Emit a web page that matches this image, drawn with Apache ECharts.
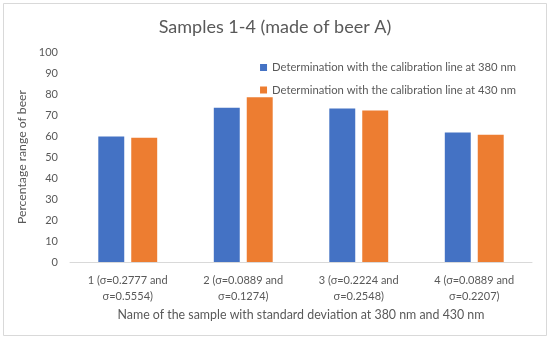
<!DOCTYPE html>
<html><head><meta charset="utf-8">
<script src="https://cdn.jsdelivr.net/npm/echarts@6/dist/echarts.min.js"></script>
<style>html,body{margin:0;padding:0;background:#fff}#c{width:550px;height:340px}</style>
</head><body><div id="c"></div>
<script>
const categories = ["1 (σ=0.2777 and\nσ=0.5554)", "2 (σ=0.0889 and\nσ=0.1274)", "3 (σ=0.2224 and\nσ=0.2548)", "4 (σ=0.0889 and\nσ=0.2207)"];
const series380 = [59.8, 73.4, 73.1, 61.7];
const series430 = [59.2, 78.5, 72.1, 60.6];
const seriesNames = ["Determination with the calibration line at 380 nm", "Determination with the calibration line at 430 nm"];
const yTicks = {min: 0, max: 100, interval: 10};
const FONT = "Lato";
const chart = echarts.init(document.getElementById('c'));
chart.setOption({
  animation: false,
  backgroundColor: '#fff',
  graphic: [{type:'rect', shape:{x:3.5,y:3.5,width:543,height:332}, style:{fill:'none', stroke:'#d9d9d9', lineWidth:1}}],
  title: {text: 'Samples 1-4 (made of beer A)', left: 'center', top: 13,
    textStyle: {fontFamily: FONT, fontSize: 18, fontWeight: 'normal', color: '#595959'}},
  legend: {orient: 'vertical', right: 29, top: 57, itemWidth: 7, itemHeight: 7, itemGap: 11.5,
    icon: 'rect', textStyle: {fontFamily: FONT, fontSize: 11.25, color: '#595959'}, data: seriesNames},
  grid: {left: 70, right: 18, top: 52, bottom: 78},
  xAxis: {type: 'category', data: categories,
    name: 'Name of the sample with standard deviation at 380 nm and 430 nm',
    nameLocation: 'middle', nameGap: 46,
    nameTextStyle: {fontFamily: FONT, fontSize: 12.4, color: '#595959'},
    axisLine: {lineStyle: {color: '#d9d9d9'}}, axisTick: {show: false},
    axisLabel: {fontFamily: FONT, fontSize: 11, color: '#595959', lineHeight: 16, margin: 10}},
  yAxis: {type: 'value', min: yTicks.min, max: yTicks.max, interval: yTicks.interval,
    name: 'Percentage range of beer', nameLocation: 'middle', nameGap: 33,
    nameTextStyle: {fontFamily: FONT, fontSize: 12.2, color: '#595959'},
    splitLine: {show: false}, axisLine: {show: false}, axisTick: {show: false},
    axisLabel: {fontFamily: FONT, fontSize: 11, color: '#595959', margin: 12}},
  series: [
    {name: seriesNames[0], type: 'bar', data: series380, itemStyle: {color: '#4472C4'}, barGap: '27%', barCategoryGap: '49%'},
    {name: seriesNames[1], type: 'bar', data: series430, itemStyle: {color: '#ED7D31'}}
  ]
});
</script></body></html>
